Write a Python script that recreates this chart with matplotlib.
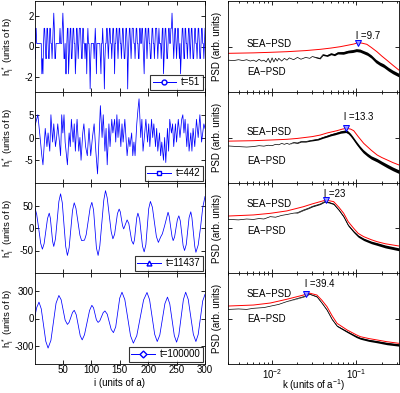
import numpy as np
import matplotlib
matplotlib.use("Agg")
import matplotlib.pyplot as plt
from matplotlib.transforms import blended_transform_factory

plt.rcParams['font.family'] = ['Liberation Sans', 'DejaVu Sans']
plt.rcParams['mathtext.fontset'] = 'custom'
plt.rcParams['mathtext.rm'] = 'Liberation Sans'
plt.rcParams['mathtext.it'] = 'Liberation Sans'
plt.rcParams['axes.unicode_minus'] = False

# ---------------- left panels: height profiles ----------------
# t = 51 : integer heights (shifted by 0.2)
h51_int = [
    -1, 1, 1, 0, 0, 0, 0, 0, 0, 0,
    0, 0, -2, -1, -2, 0, 1, 1, 0, -1,
    -1, 1, 1, 0, -1, -1, 1, 1, 0, 0,
    -1, 0, 1, 2, 1, -1, -1, 0, 0, 0,
    0, 0, 0, 0, 1, 0, 0, 0, 1, 2,
    1, -1, -1, 0, -2, -2, 0, 1, 1, -2,
    -1, 0, 1, 1, -1, -1, 0, 1, 1, 0,
    0, -2, -1, 1, 1, 0, -1, 0, 1, 1,
    1, 0, -1, -1, 1, 1, 0, 0, -1, 0,
    0, -2, 0, 1, 0, 0, -1, -3, -1, 0,
    0, 0, 0, 0, -1, 0, 1, 0, -2, 0,
    0, 0, 0, 0, 0, -1, -2, 0, 0, 1,
    0, -1, -3, -1, 0, 0, 1, 1, 0, -1,
    0, 1, 1, 0, 0, -1, 0, 1, 1, 0,
    -2, 0, 0, 1, 1, 0, -1, 0, 1, 1,
    0, 0, -1, 0, 1, 1, 0, -1, -1, 0,
    1, 1, 0, -3, -1, 0, 1, 1, 0, -1,
    0, 1, 1, 1, 0, 0, -1, 0, 1, 1,
    0, 0, -1, -1, 1, 1, 0, 0, 1, 1,
    0, -1, -2, 0, 1, 1, 0, -1, 0, 1,
    1, 0, 0, -1, -1, 0, 1, 1, 0, 0,
    -1, 0, 1, 1, 1, 0, -1, 0, 1, 0,
    0, 0, -1, 0, 1, 1, -2, -1, 0, 1,
    1, 0, -1, -1, 0, 1, 1, 0, 0, 1,
    1, 2, 1, 0, -1, 0, 1, 1, 0, -1,
    0, 1, 1, 0, -1, 0, -2, -1, 0, 1,
    1, 0, -1, -1, 1, 1, 0, 0, -1, 0,
    1, 1, 0, -1, 0, 1, 1, 0, -1, -1,
    0, 1, 1, 0, 0, -1, 0, 1, 1, 0,
    -1, -1, 0, 1, 1, 0, 0, -1, 0, 1,
]
h51_shift = 0.2

# t = 442
i442 = [1, 6, 10, 13, 15, 19, 22, 24, 27, 29, 32, 34, 37, 39, 41, 44, 46, 48, 50, 52,
        54, 58, 61, 63, 65, 68, 70, 72, 74, 75, 78, 80, 82, 85, 87, 90, 93, 96, 99, 102,
        105, 108, 111, 114, 116, 119, 121, 124, 126, 128, 131, 133, 136, 138, 141, 143, 145, 147, 149, 152,
        154, 156, 159, 161, 163, 166, 168, 171, 173, 175, 177, 180, 182, 184, 187, 189, 191, 194, 196, 199,
        201, 203, 206, 208, 210, 213, 215, 217, 220, 222, 224, 227, 229, 231, 234, 236, 238, 241, 243, 245,
        248, 250, 253, 256, 259, 261, 263, 265, 268, 270, 272, 275, 277, 279, 282, 285, 288, 291, 294, 298, 300]
h442 = [2.6, 5, 0, -4, -6, 2, -2, 1, -3, 5, -1, 3, -2, 0, 3, -1, -4, 5, 1, 5,
        -1, -6, 1, -2, 4, -1, 3, -3, 2, 4, -3, 0, -5, 1, 3, -2, -4, 2, -4, 0,
        3, -3, -8, 1, 7, 0, 5, -3, 2, -6, 3, -2, 4, 1, 4, -1, 5, 0, 4, -2,
        3, -1, 4, 0, -4, 0, -2, 1, -4, -1, -4, 3, 6, 8.5, 0, 4, -3, 1, 4, -1,
        3, -2, 4, 0, 3, -2, 2, -3, 1, -4, -1, -5, 0, -5.5, 2, -3, 4, 1, 3, -2,
        3, -1, 4, 0, 4, 5, 1, 4, -2, 3, -3, 1, -3, 2, -2, 4, 0, 5, -1, 3, 2]

# t = 11437
i11437 = [1, 4, 7.5, 11, 14, 17, 20, 23, 26, 28, 30, 32, 34, 37, 40, 43, 46, 49, 52, 55,
          58, 61, 64, 67, 70, 73, 76.5, 80, 83, 88, 91, 94.5, 98, 101, 104, 106.5, 109, 112, 115, 118.5,
          122, 125, 128, 131.5, 135, 138, 141, 143.5, 146, 149, 151, 153, 155, 157, 160, 163, 166, 168.5, 171, 174,
          176, 178, 180, 182, 185, 187.5, 190, 193, 196, 198.5, 201, 204, 207.5, 211, 214.5, 218, 222, 225, 229, 235,
          237, 239.5, 242, 244, 246.5, 249, 251.5, 254, 256.5, 259, 261.5, 264, 267, 269.5, 272, 275, 277, 279.5, 282, 284,
          288, 292, 296, 300]
h11437 = [44, 30, -1, -34, -47, -35, -7, 21, 33, 22, -4, -30, -41, -24, 17, 59, 76, 56, 7, -41,
          -61, -44, -3, 39, 56, 44, 14, -16, -28, -27, -15, 15, 45, 57, 40, -2, -44, -61, -40, 11,
          62, 83, 67, 29, -8, -24, -14, 9, 32, 42, 36, 20, 5, -2, 8, 18, 10, -9, -28, -36,
          -26, -1, 23, 33, 20, -10, -40, -53, -37, 3, 43, 59, 46, 13, -19, -32, -20, -13, 5, 35,
          26, 3, -19, -28, -20, 0, 19, 27, 16, -11, -39, -50, -37, -7, 23, 36, 23, -9, -41, -54,
          -38, 0, 45, 70]

# t = 100000
i100000 = [1, 4, 8, 12, 16, 20, 24, 29, 33.5, 38, 43, 47, 50.5, 54, 58, 61, 64, 67, 70, 73.5,
           77, 80.5, 84, 88, 92.5, 97, 101, 104, 106.5, 109, 112, 115, 118, 121, 124, 128, 131.5, 135, 139, 143,
           146.5, 150, 154, 159, 164, 169, 174, 180, 186, 192, 198, 202.5, 207, 211.5, 216, 220.5, 225, 229.5, 234, 238,
           242, 246, 250, 254, 258, 262, 266, 270.5, 275, 279.5, 284, 288, 292, 296, 300]
h100000 = [30, 120, 180, 106, -72, -251, -325, -240, -36, 168, 253, 206, 94, -18, -65, -42, 12, 67, 90, 42,
           -72, -188, -235, -179, -45, 89, 145, 117, 51, -15, -43, -25, 20, 65, 83, 48, -36, -120, -155, -90,
           67, 224, 289, 207, 9, -189, -271, -189, 8, 204, 286, 207, 16, -174, -253, -182, -9, 164, 235, 162,
           -12, -187, -260, -180, 14, 208, 289, 210, 18, -174, -253, -176, 8, 193, 265]

left_x = [np.arange(1, 301), i442, i11437, i100000]
left_y = [np.array(h51_int) + h51_shift, h442, h11437, h100000]
left_labels = ['t=51', 't=442', 't=11437', 't=100000']
left_markers = ['o', 's', '^', 'D']
left_ylim = [(-3, 3), (-10, 10), (-100, 100), (-500, 500)]
left_yticks = [[-2, 0, 2], [-5, 0, 5], [-50, 0, 50], [-300, 0, 300]]
i_ticks = [50, 100, 150, 200, 250, 300]

# ---------------- right panels: PSDs ----------------
k_sea1 = [0.00302, 0.006, 0.0095, 0.015, 0.025, 0.0373, 0.05, 0.0645, 0.08, 0.093, 0.103, 0.115, 0.133, 0.15, 0.175, 0.2, 0.228, 0.27, 0.32]
sea1 = [42.5, 43, 43.6, 44.3, 45.5, 46.9, 48.3, 49.8, 51.5, 52.7, 54, 53.8, 52.4, 49, 44.3, 39.5, 35.2, 29.5, 24]
k_ea1 = [0.00302, 0.0035, 0.004, 0.0045, 0.005, 0.0055, 0.006, 0.0065, 0.007, 0.0075, 0.008, 0.0085, 0.009, 0.0095,
         0.010, 0.0105, 0.011, 0.0115, 0.012, 0.013, 0.014, 0.015, 0.016, 0.018, 0.02, 0.022, 0.025, 0.028, 0.03,
         0.033, 0.037, 0.04, 0.045, 0.05, 0.055, 0.06, 0.07, 0.08, 0.09, 0.1, 0.11, 0.12, 0.135, 0.15, 0.17, 0.19,
         0.21, 0.24, 0.27, 0.32]
ea1 = [35, 34.5, 35.5, 34.5, 35.5, 34, 35, 33.5, 36, 34, 35, 33, 37, 32,
       37.5, 33, 37, 34, 37, 34, 37, 35, 37.5, 35.5, 38, 36, 38, 37, 39,
       38, 37, 41, 40, 42, 41, 43, 43, 44.5, 45, 46, 45.5, 44, 42, 39, 34, 31,
       29, 25, 22, 18.5]
fz1 = [0] * 29 + [0.4, 0.6, 0.8, 0.9, 1, 1.1, 1.2, 1.5, 1.5, 1.6, 1.6, 1.7, 1.7, 1.8, 1.8, 1.9, 1.9, 2, 2, 2, 2]

k_sea2 = [0.00302, 0.006, 0.01, 0.015, 0.02, 0.03, 0.0373, 0.045, 0.0589, 0.068, 0.076, 0.085, 0.0929, 0.105, 0.122, 0.15, 0.176, 0.2, 0.232, 0.27, 0.32]
sea2 = [46, 46.5, 47.3, 48, 49, 51, 52.7, 55, 57.5, 59.2, 60, 59.3, 57.5, 51, 43.6, 36, 30.8, 28, 25.3, 22.5, 19.8]
k_ea2 = [0.00302, 0.004, 0.005, 0.006, 0.007, 0.008, 0.009, 0.01, 0.011, 0.012, 0.013, 0.014, 0.015, 0.016, 0.018,
         0.02, 0.022, 0.025, 0.028, 0.03, 0.035, 0.04, 0.045, 0.05, 0.055, 0.06, 0.065, 0.07, 0.075, 0.08, 0.085,
         0.09, 0.1, 0.11, 0.12, 0.135, 0.15, 0.176, 0.2, 0.232, 0.27, 0.32]
ea2 = [40.7, 40, 39.5, 40, 41, 40.5, 41.5, 41, 42.5, 42, 43.5, 42.5, 43.6, 42.5, 44.5,
       44, 45.5, 45.5, 46.5, 47, 48, 50, 51.5, 53, 54, 55, 56, 56.5, 57, 55.5, 53,
       50, 44, 39, 35, 31, 28, 25, 22, 18.7, 15.5, 12.4]
fz2 = [0] * 14 + [0.3, 0.4, 0.5, 0.5, 0.6, 0.7, 0.8, 0.9, 1, 1.1, 1.2, 1.2, 1.3, 1.4, 1.5, 1.5, 1.6, 1.6, 1.7, 1.7, 1.8, 1.8, 1.8, 1.9, 1.9, 2, 2, 2]

k_sea3 = [0.00302, 0.006, 0.0095, 0.015, 0.0236, 0.03, 0.0373, 0.0435, 0.0537, 0.062, 0.0707, 0.08, 0.0929, 0.105, 0.122, 0.15, 0.176, 0.22, 0.32]
sea3 = [63.3, 64.5, 66.3, 69, 73.7, 76.8, 79.3, 81, 79.3, 73, 66.3, 57, 49.6, 44, 40.4, 37, 34.8, 32.5, 30]
k_ea3 = [0.00302, 0.004, 0.005, 0.006, 0.007, 0.008, 0.0095, 0.011, 0.013, 0.015, 0.018, 0.02, 0.0236, 0.027, 0.03,
         0.0373, 0.042, 0.047, 0.0537, 0.062, 0.0707, 0.08, 0.0929, 0.105, 0.122, 0.15, 0.176, 0.22, 0.32]
ea3 = [59.6, 59, 60, 59.5, 60.5, 60, 62.6, 62, 64, 65, 66.5, 67, 70, 72, 74,
       76.7, 79.3, 78.5, 76.7, 70, 62.6, 53, 45.9, 41, 37.4, 34, 32.2, 29.5, 26.3]
fz3 = [0] * 11 + [0.3, 0.4, 0.4, 0.5, 0.5, 0.5, 0.6, 0.6, 0.7, 0.8, 0.9, 1, 1.2, 1.3, 1.4, 1.5, 1.6, 1.6]

k_sea4 = [0.00302, 0.006, 0.0095, 0.0149, 0.0236, 0.0254, 0.0283, 0.034, 0.039, 0.0448, 0.0515, 0.0589, 0.0775, 0.1, 0.1116, 0.14, 0.176, 0.23, 0.32]
sea4 = [63.7, 64.8, 67, 71.1, 75.8, 77, 77.7, 75.8, 70, 63, 53, 44.7, 37.4, 32, 30, 28, 26.4, 24.5, 22.7]
k_ea4 = [0.00302, 0.004, 0.005, 0.006, 0.008, 0.0095, 0.012, 0.0149, 0.02, 0.0236, 0.0278, 0.034, 0.039, 0.0448,
         0.0515, 0.0589, 0.0775, 0.1, 0.1116, 0.14, 0.176, 0.23, 0.32]
ea4 = [60, 60.5, 60, 61.2, 62, 63.5, 65.5, 68.5, 72, 74, 76.9, 74, 67, 59.3,
       49, 41.8, 35.5, 30, 28.2, 26, 24.5, 22.5, 20.9]
fz4 = [0] * 8 + [0.2, 0.3, 0.3, 0.4, 0.4, 0.5, 0.5, 0.6, 0.8, 1, 1, 1.1, 1.2, 1.3, 1.3]

peak_l = [9.7, 13.3, 23, 39.4]
peak_val = [54, 60, 81, 77]
peak_label = ['l =9.7', 'l =13.3', 'l =23', 'l =39.4']
label_y = [0.615, 0.73, 0.875, 0.875]
sea_text_y = [0.53, 0.56, 0.77, 0.77]
ea_text_y = [0.22, 0.24, 0.47, 0.49]

right_data = [(k_sea1, sea1, k_ea1, ea1, fz1), (k_sea2, sea2, k_ea2, ea2, fz2),
              (k_sea3, sea3, k_ea3, ea3, fz3), (k_sea4, sea4, k_ea4, ea4, fz4)]

# ---------------- figure ----------------
fig = plt.figure(figsize=(4.0, 3.93), dpi=100)
W, H = 400.0, 393.0
row_top = [1, 92, 183, 273]
row_bot = [92, 183, 273, 364]
fs = 7

for r in range(4):
    b = 1 - row_bot[r] / H
    h = (row_bot[r] - row_top[r]) / H
    axl = fig.add_axes([35 / W, b, 170 / W, h])
    axl.plot(left_x[r], left_y[r], color='#0000ff', lw=0.55)
    axl.plot([], [], color='#0000ff', lw=0.7, marker=left_markers[r], mfc='white',
             mec='#0000ff', ms=3.5, label=left_labels[r])
    axl.set_xlim(1, 300)
    axl.set_ylim(*left_ylim[r])
    axl.set_yticks(left_yticks[r])
    axl.set_xticks(i_ticks)
    axl.tick_params(direction='in', top=True, right=True, labelsize=fs, length=3, width=0.6, pad=1)
    if r < 3:
        axl.set_xticklabels([])
    else:
        axl.set_xlabel('i (units of a)', fontsize=fs)
        axl.xaxis.set_label_coords(0.5, -0.15)
    axl.set_ylabel(r'h$^*_i$ (units of b)', fontsize=6.8)
    axl.yaxis.set_label_coords(-0.11, 0.5)
    leg = axl.legend(loc='lower right', fontsize=fs, frameon=True, fancybox=False,
                     handlelength=2.4, borderpad=0.25, handletextpad=0.5, borderaxespad=0.25)
    leg.get_frame().set_edgecolor('black')
    leg.get_frame().set_linewidth(0.8)
    for s in axl.spines.values():
        s.set_linewidth(0.6)

    axr = fig.add_axes([228 / W, b, 171 / W, h])
    ks, sea, ke, ea, fz = right_data[r]
    ea = np.array(ea, dtype=float)
    fz = np.array(fz, dtype=float)
    axr.fill_between(ke, ea - fz, ea + fz, color='black', lw=0)
    axr.plot(ke, ea, color='black', lw=0.5)
    axr.plot(ks, sea, color='#ff0000', lw=0.7)
    kp = 1.0 / peak_l[r]
    axr.plot([kp], [peak_val[r]], marker='v', ms=5, mfc='#9a9aff', mec='#0000ff', mew=0.7, ls='none')
    trans = blended_transform_factory(axr.transData, axr.transAxes)
    axr.text(kp * 0.96, label_y[r], peak_label[r], transform=trans, fontsize=fs,
             ha='left', va='center')
    axr.text(0.11, sea_text_y[r], 'SEA\u2212PSD', transform=axr.transAxes, fontsize=fs, va='center')
    axr.text(0.11, ea_text_y[r], 'EA\u2212PSD', transform=axr.transAxes, fontsize=fs, va='center')
    axr.set_xscale('log')
    axr.set_xlim(0.003, 0.32)
    axr.set_ylim(0, 100)
    axr.set_yticks([50])
    axr.set_yticklabels([])
    axr.tick_params(which='both', direction='in', top=True, right=True, labelsize=fs, width=0.6, pad=2)
    axr.tick_params(which='major', length=3)
    axr.tick_params(which='minor', length=1.5)
    if r < 3:
        axr.set_xticklabels([])
        axr.set_xticklabels([], minor=True)
    else:
        axr.set_xlabel(r'k (units of a$^{-1}$)', fontsize=fs)
        axr.xaxis.set_label_coords(0.5, -0.15)
    axr.set_ylabel('PSD (arb. units)', fontsize=fs)
    axr.yaxis.set_label_coords(-0.035, 0.5)
    for s in axr.spines.values():
        s.set_linewidth(0.6)

fig.savefig('out.png', dpi=100)
